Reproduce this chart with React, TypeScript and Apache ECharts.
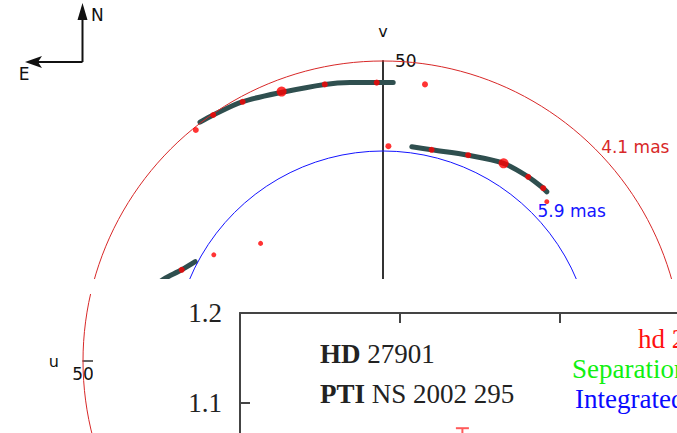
import { useEffect, useRef } from 'react';
import * as echarts from 'echarts';

// (u, v) coverage tracks, in Mλ
const trackNorth = [
  [30.5, 39.8], [28.3, 41.0], [23.5, 43.2], [16.8, 44.8], [9.7, 46.1], [5.5, 46.4], [-1.7, 46.4],
];
const trackEast = [
  [-4.8, 35.7], [-8.1, 35.2], [-14.2, 34.3], [-20.1, 32.95], [-24.2, 30.7], [-26.7, 28.8], [-27.3, 28.2],
];
const trackWest = [
  [37.2, 13.2], [36.3, 13.8], [33.55, 15.2], [31.3, 16.55],
];
// measured baselines: u, v, marker size
const samplePoints = [
  [31.2, 38.5, 6], [28.3, 41.0, 6], [23.4, 43.2, 6], [16.9, 44.9, 10], [9.7, 46.1, 6], [1.05, 46.4, 6],
  [-7.0, 46.1, 6], [-0.9, 35.8, 6],
  [-8.1, 35.2, 6], [-14.2, 34.3, 6], [-20.1, 32.95, 10], [-24.2, 30.7, 6], [-26.7, 28.8, 6], [-27.3, 26.55, 5],
  [33.55, 15.2, 6], [28.2, 17.7, 5], [20.4, 19.6, 5],
];
// fringe-spacing rings (radius in Mλ)
const ringRadii = [50, 35];
const ringLabels = ['4.1 mas', '5.9 mas'];
const ringColors = ['#d82828', '#1414ff'];
const uvTickLabels = ['50'];

// visibility panel
const ratioTickLabels = ['1.2', '1.1'];
const errorBars = [[1.39, 1.072, 1.03]];
const starTitle = ['HD', '27901'];
const runTitle = ['PTI', 'NS 2002 295'];
const legendNames = ['hd 27901', 'Separation', 'Integrated'];
const legendColors = ['#ff1010', '#10f010', '#0a0aff'];

const SANS = '"DejaVu Sans"';
const SERIF = '"Liberation Serif"';

// uv plane: 6 px per Mλ, axes crossing at the origin
const UV_SIZE = 600;
const UV_HALF = UV_SIZE / 2;

export default function App() {
  const ref = useRef<HTMLDivElement>(null);

  useEffect(() => {
    if (!ref.current) return;
    const chart = echarts.init(ref.current, null, { renderer: 'svg' });

    const serifRich = {
      b: { fontFamily: SERIF, fontSize: 27, fontWeight: 'bold', fill: '#222' },
      n: { fontFamily: SERIF, fontSize: 27, fill: '#222' },
    };

    const option: any = {
      animation: false,
      backgroundColor: '#ffffff',
      grid: [
        { left: 83, top: 61, width: UV_SIZE, height: UV_SIZE, outerBoundsMode: 'none', containLabel: false },
        { left: 240, top: 313, width: 480, height: 180, outerBoundsMode: 'none', containLabel: false },
      ],
      xAxis: [
        {
          gridIndex: 0, type: 'value', min: -50, max: 50, interval: 50, inverse: true,
          position: 'bottom', offset: -UV_HALF,
          axisLine: { onZero: false, lineStyle: { color: '#333', width: 1.5 } },
          axisTick: { show: false }, splitLine: { show: false },
          axisLabel: {
            formatter: (v: number) => (uvTickLabels.includes(String(v)) ? String(v) : ''),
            fontFamily: 'DejaVu Sans', fontSize: 17, color: '#111', margin: 4,
            showMinLabel: true, showMaxLabel: true,
          },
          name: 'u', nameLocation: 'end', nameGap: 24,
          nameTextStyle: { fontFamily: 'DejaVu Sans', fontSize: 16, color: '#111' },
        },
        {
          gridIndex: 1, type: 'value', position: 'top', min: 0, max: 3, interval: 1, z: 60,
          axisLine: { onZero: false, lineStyle: { color: '#444', width: 2 } },
          axisTick: { inside: true, length: 10, lineStyle: { color: '#444', width: 2 } },
          axisLabel: { show: false }, splitLine: { show: false },
        },
      ],
      yAxis: [
        {
          gridIndex: 0, type: 'value', min: -50, max: 50, interval: 50,
          position: 'left', offset: -UV_HALF,
          axisLine: { show: true, onZero: false, lineStyle: { color: '#333', width: 2 } },
          axisTick: { show: false }, splitLine: { show: false },
          axisLabel: {
            inside: true, margin: 12, padding: [0, 0, 6, 0],
            formatter: (v: number) => (uvTickLabels.includes(String(v)) ? String(v) : ''),
            fontFamily: 'DejaVu Sans', fontSize: 17, color: '#111',
          },
          name: 'v', nameLocation: 'end', nameGap: 22,
          nameTextStyle: { fontFamily: 'DejaVu Sans', fontSize: 16, color: '#111' },
        },
        {
          gridIndex: 1, type: 'value', min: 1.0, max: 1.2, interval: 0.1, z: 60,
          axisLine: { show: true, onZero: false, lineStyle: { color: '#444', width: 2 } },
          axisTick: { inside: true, length: 10, lineStyle: { color: '#444', width: 2 } },
          splitLine: { show: false },
          axisLabel: {
            formatter: (v: number) => (ratioTickLabels.includes(v.toFixed(1)) ? v.toFixed(1) : ''),
            fontFamily: 'Liberation Serif', fontSize: 27, color: '#222', margin: 18,
          },
        },
      ],
      series: [
        ...[trackNorth, trackEast, trackWest].map((track) => ({
          type: 'line', xAxisIndex: 0, yAxisIndex: 0, data: track, z: 2,
          showSymbol: false, smooth: 0.3, silent: true,
          lineStyle: { color: '#2f4f4f', width: 5, cap: 'round' },
        })),
        {
          type: 'custom', xAxisIndex: 0, yAxisIndex: 0, z: 3, silent: true, clip: false,
          data: ringRadii.map((r) => [r, 0]),
          renderItem: (params: any, api: any) => {
            const r = api.value(0);
            const c = api.coord([0, 0]);
            const e = api.coord([r, 0]);
            const rad = Math.abs(e[0] - c[0]);
            const i = params.dataIndex;
            const d = rad * Math.SQRT1_2;
            return {
              type: 'group',
              children: [
                {
                  type: 'circle', shape: { cx: c[0], cy: c[1], r: rad },
                  style: { fill: 'none', stroke: ringColors[i], lineWidth: 1 },
                },
                {
                  type: 'text', x: c[0] + d + 6, y: c[1] - d - 2,
                  style: {
                    text: ringLabels[i], fill: ringColors[i], fontFamily: 'DejaVu Sans', fontSize: 17,
                    align: 'left', verticalAlign: 'middle',
                  },
                },
              ],
            };
          },
        },
        {
          type: 'scatter', xAxisIndex: 0, yAxisIndex: 0, z: 4, silent: true,
          data: samplePoints,
          symbol: 'circle',
          symbolSize: (val: number[]) => val[2],
          itemStyle: { color: '#ff0000' },
        },
        {
          type: 'custom', xAxisIndex: 1, yAxisIndex: 1, z: 60, silent: true, clip: false,
          data: errorBars,
          renderItem: (_p: any, api: any) => {
            const top = api.coord([api.value(0), api.value(1)]);
            const bot = api.coord([api.value(0), api.value(2)]);
            const st = { stroke: '#ff5a5a', lineWidth: 2 };
            return {
              type: 'group',
              children: [
                { type: 'line', shape: { x1: top[0] - 6.5, y1: top[1], x2: top[0] + 6.5, y2: top[1] }, style: st },
                { type: 'line', shape: { x1: top[0], y1: top[1], x2: bot[0], y2: bot[1] }, style: st },
              ],
            };
          },
        },
      ],
      graphic: [
        // compass
        { type: 'line', z: 10, shape: { x1: 82.5, y1: 62, x2: 82.5, y2: 16 }, style: { stroke: '#111', lineWidth: 2 } },
        { type: 'polygon', z: 10, shape: { points: [[82.5, 3], [77.5, 20], [87.5, 20]] }, style: { fill: '#111' } },
        { type: 'line', z: 10, shape: { x1: 82.5, y1: 62, x2: 38, y2: 62 }, style: { stroke: '#111', lineWidth: 2 } },
        { type: 'polygon', z: 10, shape: { points: [[25, 62], [42, 56], [38, 62], [42, 68]] }, style: { fill: '#111' } },
        { type: 'text', z: 10, x: 91, y: 15, style: { text: 'N', fill: '#111', fontFamily: 'DejaVu Sans', fontSize: 17, verticalAlign: 'middle' } },
        { type: 'text', z: 10, x: 24, y: 74, style: { text: 'E', fill: '#111', fontFamily: 'DejaVu Sans', fontSize: 17, align: 'center', verticalAlign: 'middle' } },
        // lower panel backdrop
        { type: 'rect', z: 50, shape: { x: 93, y: 279, width: 600, height: 160 }, style: { fill: '#ffffff' } },
        { type: 'rect', z: 50, shape: { x: 78, y: 279, width: 20, height: 15 }, style: { fill: '#ffffff' } },
        {
          type: 'text', z: 60, x: 320, y: 354,
          style: { text: `{b|${starTitle[0]}} {n|${starTitle[1]}}`, rich: serifRich, fontFamily: SERIF, fontSize: 27, fill: '#222', verticalAlign: 'middle' },
        },
        {
          type: 'text', z: 60, x: 320, y: 394,
          style: { text: `{b|${runTitle[0]}} {n|${runTitle[1]}}`, rich: serifRich, fontFamily: SERIF, fontSize: 27, fill: '#222', verticalAlign: 'middle' },
        },
        ...legendNames.map((name, i) => ({
          type: 'text', z: 60, x: [638, 572, 575][i], y: 339 + i * 30,
          style: { text: name, fill: legendColors[i], fontFamily: SERIF, fontSize: 27, verticalAlign: 'middle' },
        })),
      ],
    };

    chart.setOption(option);
    return () => chart.dispose();
  }, []);

  return (
    <div
      ref={ref}
      style={{ position: 'fixed', left: 0, top: 0, width: 677, height: 433, background: '#fff', fontFamily: SANS }}
    />
  );
}
